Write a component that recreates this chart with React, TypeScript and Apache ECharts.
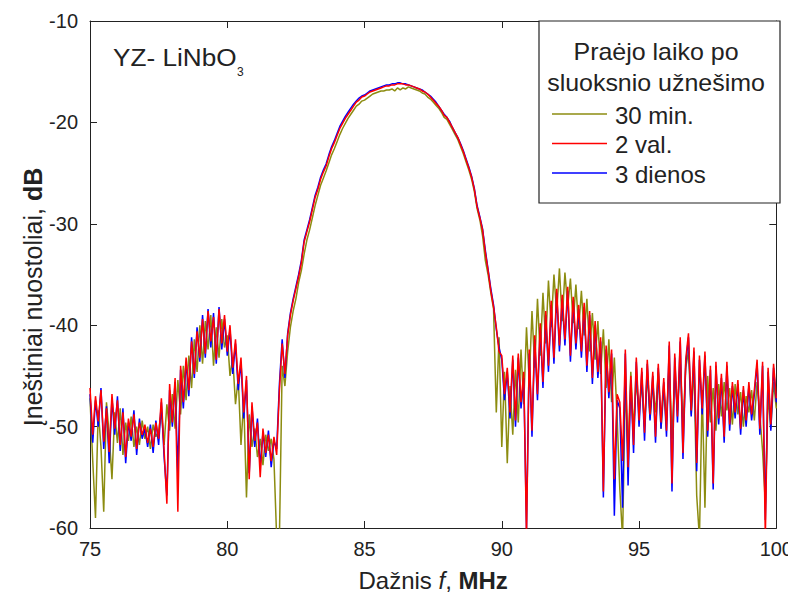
import React, { useEffect, useRef } from "react";
import * as echarts from "echarts";

// Frequency grid: 75.0 ... 100.0 MHz, 0.1 MHz step (251 samples)
const F_START = 75;
const F_STEP = 0.1;

// 30 min. (olive)
const min30: number[] = [
  -47.2, -53.4, -59.0, -48.4, -52.0, -58.4, -47.6, -50.8, -55.2, -48.6,
  -51.6, -48.2, -52.8, -49.6, -51.4, -49.0, -52.0, -50.0, -51.8, -49.4,
  -51.2, -50.0, -52.2, -49.8, -51.0, -50.4, -48.6, -51.8, -47.8, -50.4,
  -46.8, -50.2, -45.4, -48.8, -44.0, -47.4, -43.0, -46.2, -41.4, -44.6,
  -40.0, -43.8, -39.6, -42.4, -39.0, -44.0, -40.2, -43.2, -39.4, -42.2,
  -41.0, -45.0, -43.2, -47.8, -45.2, -51.8, -47.4, -57.0, -48.8, -52.0,
  -50.2, -53.0, -51.2, -53.8, -50.8, -52.4, -51.2, -53.2, -61.0, -61.0,
  -44.0, -46.0, -42.6, -40.2, -38.6, -37.4, -35.8, -34.6, -33.0, -31.6,
  -30.6, -29.4, -28.2, -27.2, -26.2, -25.5, -24.8, -24.0, -23.2, -22.6,
  -21.9, -21.2, -20.6, -20.1, -19.6, -19.2, -18.8, -18.4, -18.2, -17.9,
  -17.8, -17.6, -17.4, -17.2, -17.1, -17.0, -16.9, -16.9, -16.8, -16.8,
  -16.7, -16.9, -16.6, -16.8, -16.6, -16.7, -16.5, -16.6, -16.7, -16.8,
  -16.9, -17.1, -17.2, -17.5, -17.7, -18.0, -18.3, -18.6, -19.0, -19.5,
  -19.7, -20.2, -20.7, -21.2, -21.7, -22.4, -23.1, -23.9, -24.7, -25.6,
  -26.8, -28.5, -29.6, -31.2, -33.6, -35.0, -36.8, -38.4, -48.6, -41.2,
  -52.0, -44.6, -53.6, -46.0, -50.8, -44.4, -49.6, -42.4, -47.8, -40.2,
  -45.6, -38.6, -44.2, -37.4, -43.0, -36.8, -41.8, -35.6, -40.2, -35.0,
  -38.8, -34.4, -39.6, -34.8, -38.2, -35.4, -39.8, -36.0, -40.4, -36.6,
  -41.0, -37.4, -42.6, -38.8, -43.4, -39.6, -44.8, -40.4, -46.2, -41.4,
  -47.6, -43.2, -49.0, -56.2, -61.0, -46.0, -52.4, -44.6, -50.2, -45.6,
  -48.4, -45.8, -50.0, -44.8, -49.2, -46.0, -48.6, -44.6, -50.2, -46.4,
  -49.4, -43.6, -51.2, -44.8, -48.4, -43.6, -50.0, -44.2, -42.6, -48.8,
  -44.2, -56.8, -61.0, -46.4, -58.0, -45.0, -49.6, -46.2, -50.4, -45.8,
  -49.0, -45.6, -48.4, -46.2, -49.8, -45.8, -48.8, -46.6, -50.0, -47.0,
  -48.6, -46.4, -49.4, -45.6, -48.8, -52.4, -57.6, -46.8, -50.2, -45.6,
  -48.2,
];

// 2 val. (red)
const val2: number[] = [
  -46.2, -50.8, -47.0, -49.5, -46.4, -51.5, -48.2, -52.5, -46.8, -50.2,
  -47.4, -51.8, -48.6, -53.0, -49.2, -51.0, -48.8, -52.2, -49.6, -50.8,
  -49.8, -51.6, -50.2, -52.0, -49.6, -51.2, -47.2, -52.4, -57.6, -45.8,
  -49.6, -45.2, -58.4, -44.0, -47.6, -43.2, -46.4, -41.6, -44.8, -40.6,
  -43.2, -39.4, -42.8, -38.6, -41.6, -39.2, -43.4, -38.4, -41.8, -39.0,
  -42.6, -40.0, -44.2, -41.4, -45.8, -43.2, -48.6, -45.0, -55.2, -47.6,
  -51.4, -49.6, -55.0, -50.2, -52.6, -50.8, -53.4, -51.0, -52.8, -46.4,
  -41.8, -44.8, -41.0, -39.0, -37.6, -36.4, -35.2, -33.8, -31.8, -30.8,
  -29.8, -28.6, -27.4, -26.6, -25.6, -24.9, -24.3, -23.4, -22.6, -22.0,
  -21.3, -20.6, -20.1, -19.6, -19.2, -18.8, -18.4, -18.0, -17.8, -17.5,
  -17.4, -17.2, -17.0, -16.9, -16.8, -16.7, -16.6, -16.5, -16.4, -16.4,
  -16.3, -16.3, -16.2, -16.2, -16.2, -16.3, -16.3, -16.4, -16.5, -16.6,
  -16.7, -16.9, -17.0, -17.2, -17.5, -17.8, -18.1, -18.4, -18.8, -19.3,
  -19.5, -20.0, -20.5, -21.0, -21.5, -22.2, -22.9, -23.7, -24.5, -25.4,
  -26.6, -28.3, -29.4, -30.6, -32.8, -34.6, -36.6, -38.2, -40.2, -42.6,
  -43.0, -46.8, -44.2, -48.6, -43.0, -49.4, -42.8, -47.6, -44.6, -61.0,
  -42.4, -50.4, -41.0, -46.8, -39.8, -45.6, -38.6, -44.0, -37.6, -43.2,
  -36.4, -42.0, -37.0, -41.4, -36.2, -43.0, -37.2, -41.8, -38.0, -42.6,
  -37.8, -44.0, -38.6, -45.2, -39.6, -44.6, -41.2, -56.4, -42.0, -46.6,
  -42.4, -55.2, -46.8, -47.6, -53.4, -42.4, -54.0, -45.0, -51.8, -43.2,
  -49.4, -44.2, -50.6, -43.4, -48.8, -44.6, -51.0, -43.8, -49.6, -45.2,
  -50.4, -41.6, -55.6, -42.8, -49.0, -41.2, -52.6, -43.4, -40.8, -48.4,
  -42.2, -53.6, -43.0, -48.2, -42.6, -50.4, -44.0, -55.6, -43.6, -49.2,
  -44.8, -51.0, -43.6, -49.8, -45.6, -48.6, -45.4, -50.2, -46.0, -49.4,
  -45.6, -48.8, -46.4, -43.4, -50.2, -43.6, -61.0, -44.2, -49.8, -43.8,
  -47.2,
];

// 3 dienos (blue)
const dienos3: number[] = [
  -46.8, -51.6, -47.4, -50.0, -46.2, -52.2, -48.0, -53.6, -47.2, -50.8,
  -47.0, -52.4, -48.2, -53.6, -49.6, -51.4, -48.4, -52.8, -49.2, -51.2,
  -50.2, -52.0, -49.8, -52.6, -49.4, -51.8, -47.6, -53.0, -56.8, -46.4,
  -50.0, -45.6, -54.6, -44.4, -48.2, -43.6, -47.0, -41.2, -45.2, -40.2,
  -43.6, -39.0, -43.2, -38.4, -42.2, -38.8, -43.8, -38.2, -42.4, -39.4,
  -43.0, -40.4, -44.8, -41.8, -46.4, -43.6, -49.2, -45.4, -54.6, -48.0,
  -52.0, -49.2, -54.0, -50.6, -53.0, -50.4, -54.0, -51.4, -52.2, -45.8,
  -41.4, -45.2, -40.8, -38.8, -37.4, -36.2, -35.0, -33.6, -31.6, -30.6,
  -29.6, -28.4, -27.2, -26.4, -25.4, -24.7, -24.1, -23.2, -22.4, -21.8,
  -21.1, -20.4, -19.9, -19.4, -19.0, -18.6, -18.2, -17.9, -17.6, -17.4,
  -17.3, -17.1, -16.9, -16.8, -16.7, -16.6, -16.5, -16.4, -16.3, -16.3,
  -16.2, -16.2, -16.1, -16.1, -16.2, -16.2, -16.3, -16.4, -16.5, -16.6,
  -16.7, -16.8, -17.0, -17.2, -17.4, -17.7, -18.0, -18.4, -18.8, -19.2,
  -19.5, -19.9, -20.5, -21.0, -21.5, -22.1, -22.8, -23.6, -24.4, -25.3,
  -26.5, -28.2, -29.3, -30.5, -32.6, -34.5, -36.4, -38.0, -40.4, -42.2,
  -43.4, -47.4, -44.6, -49.2, -43.4, -50.0, -43.2, -48.2, -45.2, -60.0,
  -42.8, -51.0, -41.4, -47.4, -40.2, -46.2, -39.0, -44.6, -38.0, -43.8,
  -36.8, -42.6, -37.4, -42.0, -36.6, -43.6, -37.6, -42.4, -38.4, -43.2,
  -38.2, -44.6, -39.0, -45.8, -40.0, -45.2, -41.6, -57.0, -42.4, -47.2,
  -42.8, -58.8, -47.4, -48.2, -58.0, -42.8, -55.8, -45.4, -52.6, -43.6,
  -50.0, -44.6, -51.4, -43.8, -49.4, -45.0, -51.6, -44.2, -50.2, -45.6,
  -51.0, -42.0, -56.4, -43.2, -49.6, -41.6, -53.2, -43.8, -41.2, -49.0,
  -42.6, -54.4, -43.4, -48.8, -43.0, -51.0, -44.4, -56.2, -44.0, -49.8,
  -45.2, -51.6, -44.0, -50.4, -46.0, -49.2, -45.8, -50.8, -46.4, -50.0,
  -46.0, -49.4, -46.8, -43.8, -50.8, -44.0, -59.2, -44.6, -50.4, -44.2,
  -47.6,
];

const legendTitle = ["Praėjo laiko po", "sluoksnio užnešimo"];
const seriesNames = ["30 min.", "2 val.", "3 dienos"];
const seriesColors = ["#8c8c10", "#ff0000", "#0000ff"];

const FONT = "'Liberation Sans', Arial, sans-serif";

function toPairs(vals: number[]): number[][] {
  return vals.map((v, i) => [+(F_START + i * F_STEP).toFixed(2), v]);
}

export default function App() {
  const ref = useRef<HTMLDivElement>(null);

  useEffect(() => {
    if (!ref.current) return;
    const chart = echarts.init(ref.current, undefined, { renderer: "svg" });

    const axisLine = { show: true, lineStyle: { color: "#222", width: 1 } };
    const tickIn = { show: true, inside: true, length: 7, lineStyle: { color: "#222", width: 1 } };
    const label = { color: "#222", fontSize: 20, fontFamily: FONT };

    const legendRows = seriesNames
      .map((name, k) => {
        const y = 114 + k * 29.5;
        return [
          {
            type: "line",
            shape: { x1: 552, y1: y, x2: 607, y2: y },
            style: { stroke: seriesColors[k], lineWidth: 1.4 },
            z: 101,
          },
          {
            type: "text",
            x: 615,
            y: y + 1,
            style: {
              text: name,
              fill: "#222",
              font: `24px ${FONT}`,
              textAlign: "left",
              textVerticalAlign: "middle",
            },
            z: 101,
          },
        ];
      })
      .flat();

    const lineSeries = (name: string, vals: number[], color: string, z: number) => ({
      name,
      type: "line",
      data: toPairs(vals),
      showSymbol: false,
      symbol: "none",
      clip: true,
      lineStyle: { color, width: 1.5 },
      z,
    });

    const option: any = {
      animation: false,
      backgroundColor: "#fff",
      grid: { left: 90, right: 17, top: 21, bottom: 73, containLabel: false },
      xAxis: [
        {
          type: "value",
          min: 75,
          max: 100,
          interval: 5,
          axisLine,
          axisTick: tickIn,
          splitLine: { show: false },
          axisLabel: { ...label, margin: 11 },
          name: "{a|Dažnis }{i|f}{a|, }{b|MHz}",
          nameLocation: "middle",
          nameGap: 40,
          nameTextStyle: {
            rich: {
              a: { fontSize: 24, fontFamily: FONT, color: "#222" },
              i: { fontSize: 24, fontFamily: FONT, color: "#222", fontStyle: "italic" },
              b: { fontSize: 24, fontFamily: FONT, color: "#222", fontWeight: "bold" },
            },
          },
        },
        {
          type: "value",
          position: "top",
          min: 75,
          max: 100,
          interval: 5,
          axisLine,
          axisTick: tickIn,
          axisLabel: { show: false },
          splitLine: { show: false },
        },
      ],
      yAxis: [
        {
          type: "value",
          min: -60,
          max: -10,
          interval: 10,
          axisLine,
          axisTick: tickIn,
          splitLine: { show: false },
          axisLabel: { ...label, margin: 12 },
        },
        {
          type: "value",
          position: "right",
          min: -60,
          max: -10,
          interval: 10,
          axisLine,
          axisTick: tickIn,
          axisLabel: { show: false },
          splitLine: { show: false },
        },
      ],
      series: [
        lineSeries(seriesNames[0], min30, seriesColors[0], 2),
        lineSeries(seriesNames[2], dienos3, seriesColors[2], 3),
        lineSeries(seriesNames[1], val2, seriesColors[1], 4),
      ],
      graphic: [
        {
          type: "text",
          x: 33,
          y: 297,
          rotation: Math.PI / 2,
          style: {
            text: "{a|Įneštiniai nuostoliai, }{b|dB}",
            textAlign: "center",
            textVerticalAlign: "middle",
            rich: {
              a: { fontSize: 25, fontFamily: FONT, fill: "#222" },
              b: { fontSize: 25, fontFamily: FONT, fill: "#222", fontWeight: "bold" },
            },
          },
          z: 100,
        },
        {
          type: "text",
          x: 113,
          y: 57,
          scaleX: 1.09,
          style: {
            text: "YZ- LiNbO",
            fill: "#222",
            font: `24px ${FONT}`,
            textAlign: "left",
            textVerticalAlign: "middle",
          },
          z: 100,
        },
        {
          type: "text",
          x: 237,
          y: 72,
          style: {
            text: "3",
            fill: "#222",
            font: `12px ${FONT}`,
            textAlign: "left",
            textVerticalAlign: "middle",
          },
          z: 100,
        },
        {
          type: "rect",
          shape: { x: 539, y: 21, width: 241, height: 182 },
          style: { fill: "#fff", stroke: "#222", lineWidth: 1.2 },
          z: 100,
        },
        {
          type: "text",
          x: 656,
          y: 52,
          scaleX: 1.04,
          style: {
            text: legendTitle[0],
            fill: "#222",
            font: `24px ${FONT}`,
            textAlign: "center",
            textVerticalAlign: "middle",
          },
          z: 101,
        },
        {
          type: "text",
          x: 656,
          y: 83,
          scaleX: 1.04,
          style: {
            text: legendTitle[1],
            fill: "#222",
            font: `24px ${FONT}`,
            textAlign: "center",
            textVerticalAlign: "middle",
          },
          z: 101,
        },
        ...legendRows,
      ],
    };

    chart.setOption(option);
    return () => chart.dispose();
  }, []);

  return <div ref={ref} style={{ width: 796, height: 601, margin: -8 }} />;
}
